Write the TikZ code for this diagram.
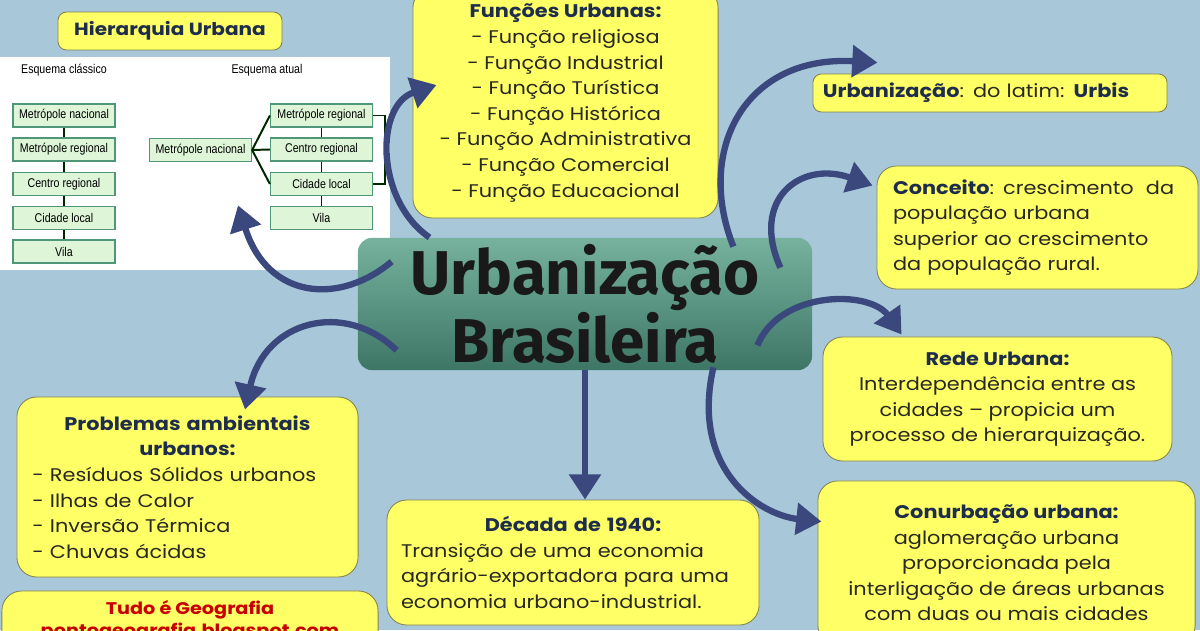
\documentclass[tikz,border=0pt]{standalone}
\usepackage{fontspec}
\setmainfont{Poppins}[FakeStretch=1.14]
\newfontfamily\titlefont{Fira Sans}
\newfontfamily\narrowfont{Liberation Sans}[FakeStretch=0.84]
\usetikzlibrary{arrows.meta}
\definecolor{fundo}{RGB}{168,200,218}
\definecolor{amarelo}{RGB}{255,255,102}
\definecolor{bordaolive}{RGB}{130,130,80}
\definecolor{tinta}{RGB}{40,40,35}
\definecolor{marinho}{RGB}{30,45,75}
\definecolor{azulseta}{RGB}{58,72,125}
\definecolor{verdeA}{RGB}{118,178,158}
\definecolor{verdeB}{RGB}{62,118,102}
\definecolor{menta}{RGB}{222,245,216}
\definecolor{verdeborda}{RGB}{80,150,120}
\definecolor{vermelho}{RGB}{200,0,0}

\begin{document}
\begin{tikzpicture}[x=0.025cm,y=-0.025cm,
  caixa/.style={draw=bordaolive,fill=amarelo,line width=0.6pt,rounded corners=14pt,
    inner sep=0pt,text=tinta,font=\fontsize{13}{18.2}\selectfont},
  rotulo/.style={caixa,rounded corners=6pt},
  nivel/.style={draw=verdeborda,fill=menta,line width=0.8pt,minimum width=72.6pt,
    minimum height=16.4pt,inner sep=0pt,font=\narrowfont\fontsize{9}{10}\selectfont},
  liga/.style={draw=black!85!green,line width=1.4pt},
  seta/.style={draw=azulseta,line width=4.5pt,-{Triangle[length=18pt,width=22pt]}}]
\useasboundingbox (0,0) rectangle (1200,630);
\fill[fundo] (0,0) rectangle (1200,630);

% hierarquia urbana
\node[rotulo,minimum width=159.3pt,minimum height=27pt,text=marinho,
  font=\bfseries\fontsize{12.5}{14}\selectfont] (hier) at (170,31) {Hierarquia Urbana};
\node[fill=white,minimum width=277.4pt,minimum height=151.5pt,inner sep=0pt] (painel) at (195,163.5) {};
\node[font=\narrowfont\fontsize{9}{10}\selectfont] (classico) at (64,70) {Esquema clássico};
\node[font=\narrowfont\fontsize{9}{10}\selectfont] (atual) at (267,70) {Esquema atual};
\node[nivel] (c1) at (64,115.5) {Metrópole nacional};
\node[nivel] (c2) at (64,149.5) {Metrópole regional};
\node[nivel] (c3) at (64,184) {Centro regional};
\node[nivel] (c4) at (64,218) {Cidade local};
\node[nivel] (c5) at (64,251.5) {Vila};
\draw[liga] (c1) -- (c2);
\draw[liga] (c2) -- (c3);
\draw[liga] (c3) -- (c4);
\draw[liga] (c4) -- (c5);
\node[nivel] (an) at (200.5,150) {Metrópole nacional};
\node[nivel] (a1) at (321.5,115.5) {Metrópole regional};
\node[nivel] (a2) at (321.5,149.5) {Centro regional};
\node[nivel] (a3) at (321.5,184) {Cidade local};
\node[nivel] (a4) at (321.5,218) {Vila};
\draw[liga] (an.east) -- (a1.west);
\draw[liga] (an.east) -- (a2.west);
\draw[liga] (an.east) -- (a3.west);
\draw[liga] (a1) -- (a2);
\draw[liga] (a2) -- (a3);
\draw[liga] (a3) -- (a4);
\draw[liga] (a1.east) -- ++(12,0) |- (a3.east);

% caixas amarelas
\node[caixa,minimum width=217pt,minimum height=163.6pt,align=center] (funcoes) at (565.5,103)
  {\textcolor{marinho}{\bfseries Funções Urbanas:}\\- Função religiosa\\- Função Industrial\\- Função Turística\\
   - Função Histórica\\- Função Administrativa\\- Função Comercial\\- Função Educacional};
\node[rotulo,minimum width=251.8pt,minimum height=27pt,text width=237.6pt,align=left] (urbis) at (990,93)
  {\textcolor{marinho}{\bfseries Urbanização}: do latim: \textcolor{marinho}{\bfseries Urbis}};
\node[caixa,minimum width=228.3pt,minimum height=87.5pt,text width=205.5pt,align=left] (conceito) at (1037.5,227.5)
  {\textcolor{marinho}{\bfseries Conceito}: crescimento~ da\\população urbana\\superior ao crescimento\\da população rural.};
\node[caixa,minimum width=248.2pt,minimum height=88.2pt,align=center] (rede) at (997.5,399)
  {\textcolor{marinho}{\bfseries Rede Urbana:}\\Interdependência entre as\\cidades – propicia um\\processo de hierarquização.};
\node[caixa,minimum width=268.2pt,minimum height=116.7pt,align=center] (conurb) at (1006.5,563)
  {\textcolor{marinho}{\bfseries Conurbação urbana:}\\aglomeração urbana\\proporcionada pela\\interligação de áreas urbanas\\com duas ou mais cidades};
\node[caixa,minimum width=264.6pt,minimum height=88.9pt,text width=244.6pt,align=left] (decada) at (573,562.5)
  {\centering\textcolor{marinho}{\bfseries Década de 1940:}\par\raggedright
   Transição de uma economia\\agrário-exportadora para uma\\economia urbano-industrial.};
\node[caixa,minimum width=242.6pt,minimum height=128pt,text width=220.6pt,align=left] (problemas) at (187.5,487)
  {\centering\textcolor{marinho}{\bfseries Problemas ambientais\\urbanos:}\par\raggedright
   - Resíduos Sólidos urbanos\\- Ilhas de Calor\\- Inversão Térmica\\- Chuvas ácidas};
\node[caixa,minimum width=267.5pt,minimum height=42.7pt,align=center,text=vermelho,
  font=\bfseries\fontsize{12}{15.6}\selectfont] (tudo) at (190,621)
  {Tudo é Geografia\\pontogeografia.blogspot.com};

% titulo central
\node[shade,top color=verdeA,bottom color=verdeB,rounded corners=10pt,minimum width=323pt,
  minimum height=94pt,inner sep=0pt,align=center,text=black!90,
  font=\titlefont\bfseries\fontsize{44}{35.6}\selectfont] (titulo) at (585,304)
  {\lineskiplimit=-40pt Urbanização\\Brasileira};

% setas
\draw[seta] ([shift={(34,24)}]titulo.north west) .. controls (340,305) and (268,300) .. ([shift={(43,-65)}]painel.south);
\draw[seta] ([shift={(17,19)}]funcoes.south west) .. controls (375,200) and (375,105) .. ([shift={(24,-18)}]funcoes.west);
\draw[seta] ([shift={(-79,9)}]titulo.north east) .. controls (695,150) and (745,55) .. ([shift={(65,-11)}]urbis.north west);
\draw[seta] ([shift={(-32,30)}]titulo.north east) .. controls (750,200) and (800,160) .. ([shift={(-4,20)}]conceito.north west);
\draw[seta] ([shift={(-55,-25)}]titulo.south east) .. controls (780,290) and (870,290) .. ([shift={(79,-2)}]rede.north west);
\draw[seta] ([shift={(-99,-3)}]titulo.south east) .. controls (690,470) and (760,515) .. ([shift={(4,41)}]conurb.north west);
\draw[seta] (titulo.south) -- (titulo.south |- decada.north);
\draw[seta] ([shift={(39,-20)}]titulo.south west) .. controls (345,300) and (265,320) .. ([shift={(57.5,13)}]problemas.north);
\end{tikzpicture}
\end{document}
